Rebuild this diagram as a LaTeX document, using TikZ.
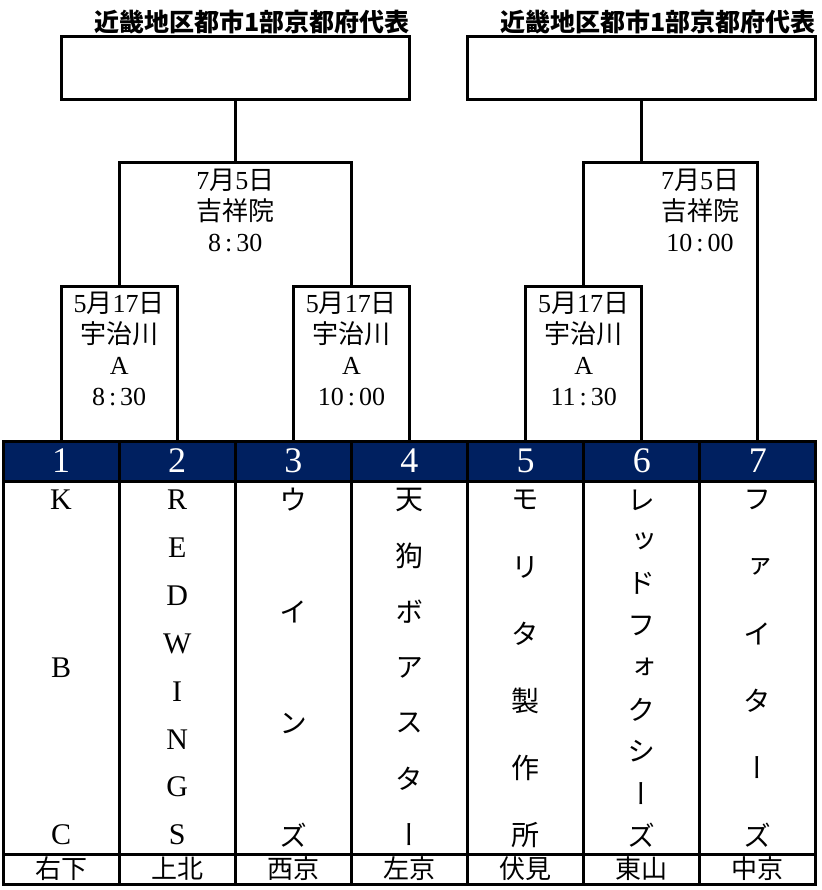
\documentclass[tikz,border=0pt]{standalone}
\usepackage{fontspec}
\setmainfont{Liberation Serif}
\newfontfamily\cjk{Noto Sans CJK JP}
\newfontfamily\cjkv[RawFeature=+vert]{Noto Sans CJK JP}
\usepackage{tikz}
\definecolor{navy}{RGB}{0,32,96}
\newcommand\tcol{\kern4pt:\kern4pt}

\begin{document}
\begin{tikzpicture}
		[x=1pt,y=-1pt,line width=3pt,
		numcell/.style={draw,fill=navy,text=white,minimum width=116.14pt,minimum height=40pt,inner sep=0pt,font=\fontsize{36}{36}\selectfont},
		namecell/.style={draw,minimum width=116.14pt,minimum height=373pt,inner sep=0pt},
		areacell/.style={draw,minimum width=116.14pt,minimum height=30pt,inner sep=0pt,font=\cjk\fontsize{26}{26}\selectfont},
		winbox/.style={draw,minimum width=348pt,minimum height=63pt,inner sep=0pt},
		ttl/.style={anchor=base east,inner sep=0pt,font=\cjk\bfseries\fontsize{25}{25}\selectfont},
		info/.style={anchor=north,inner sep=0pt,yshift=-5pt,align=center,font=\fontsize{26}{31}\selectfont},
		kana/.style={inner sep=0pt,font=\cjkv\fontsize{28}{28}\selectfont},
		latin/.style={inner sep=0pt,font=\fontsize{30}{30}\selectfont}]
		\useasboundingbox (0,0) rectangle (821,890);
		
		% team columns
		\foreach \i in {1,...,7}
		\node[namecell] (c\i) at ({116.14*\i-55.07},667.5) {};
		\foreach \i in {1,...,7}
		\node[numcell] (n\i) at ({116.14*\i-55.07},461) {\i};
		\foreach \a [count=\i] in {右下,上北,西京,左京,伏見,東山,中京}
		\node[areacell] (d\i) at ({116.14*\i-55.07},869) {\a};
		
		% team names
		\foreach \a [count=\k] in {K,B,C}
		\node[latin] (t1-\k) at (61.07,{500+(\k-1)*167.5}) {\a};
		\foreach \a [count=\k] in {R,E,D,W,I,N,G,S}
		\node[latin] (t2-\k) at (177.21,{500+(\k-1)*47.857}) {\a};
		\foreach \a [count=\k] in {ウ,イ,ン,ズ}
		\node[kana] (t3-\k) at (293.35,{500+(\k-1)*111.667}) {\a};
		\foreach \a [count=\k] in {天,狗,ボ,ア,ス,タ,ー}
		\node[kana] (t4-\k) at (409.49,{500+(\k-1)*55.833}) {\a};
		\foreach \a [count=\k] in {モ,リ,タ,製,作,所}
		\node[kana] (t5-\k) at (525.63,{500+(\k-1)*67}) {\a};
		\foreach \a [count=\k] in {レ,ッ,ド,フ,ォ,ク,シ,ー,ズ}
		\node[kana] (t6-\k) at (641.77,{500+(\k-1)*41.875}) {\a};
		\foreach \a [count=\k] in {フ,ァ,イ,タ,ー,ズ}
		\node[kana] (t7-\k) at (757.91,{500+(\k-1)*67}) {\a};
		
		% first round
		\coordinate (q12) at (119.14,286);
		\coordinate (q34) at (351.42,286);
		\coordinate (q56) at (583.70,286);
		\draw (n1.north) |- (q12) -| (n2.north);
		\draw (n3.north) |- (q34) -| (n4.north);
		\draw (n5.north) |- (q56) -| (n6.north);
		\node[info] (m12) at (q12) {5{\cjk 月}17{\cjk 日}\\{\cjk 宇治川}\\A\\8\tcol30};
		\node[info] (m34) at (q34) {5{\cjk 月}17{\cjk 日}\\{\cjk 宇治川}\\A\\10\tcol00};
		\node[info] (m56) at (q56) {5{\cjk 月}17{\cjk 日}\\{\cjk 宇治川}\\A\\11\tcol30};
		
		% second round
		\coordinate (s1) at (235.28,163);
		\coordinate (s2) at (641.77,163);
		\draw (q12) |- (s1) -| (q34);
		\draw (q56) |- (s2) -| (n7.north);
		\node[info] (m1234) at (s1) {7{\cjk 月}5{\cjk 日}\\{\cjk 吉祥院}\\8\tcol30};
		\node[info] (m567) at (700,163) {7{\cjk 月}5{\cjk 日}\\{\cjk 吉祥院}\\10\tcol00};
		
		% winners
		\node[winbox] (w1) at (235.28,68.5) {};
		\node[winbox] (w2) at (641.77,68.5) {};
		\draw (s1) -- (w1.south);
		\draw (s2) -- (w2.south);
		\node[ttl] (h1) at ([yshift=3.5pt]w1.north east) {近畿地区都市1部京都府代表};
		\node[ttl] (h2) at ([yshift=3.5pt]w2.north east) {近畿地区都市1部京都府代表};
		\end{tikzpicture}
\end{document}
